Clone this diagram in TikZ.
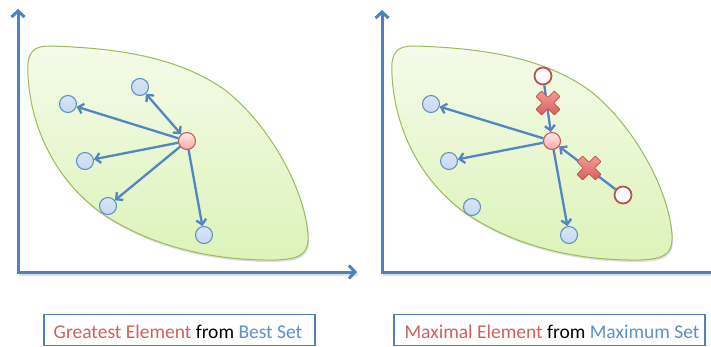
\documentclass[tikz,border=0pt]{standalone}
\usepackage{fontspec}
\setmainfont{Carlito}
\usetikzlibrary{arrows.meta,shadows}

\definecolor{axisblue}{HTML}{4F81BD}
\definecolor{linkblue}{HTML}{5285C2}
\definecolor{dotblue}{HTML}{C6D9F1}
\definecolor{dotblueedge}{HTML}{5A89C4}
\definecolor{bestred}{HTML}{C0504D}
\definecolor{crosstop}{HTML}{F29A96}
\definecolor{crossbottom}{HTML}{D9605B}
\definecolor{leafedge}{HTML}{9BBB59}
\definecolor{leaftop}{HTML}{F4FBEA}
\definecolor{leafbottom}{HTML}{DCF3B8}
\definecolor{wordred}{HTML}{D0605B}
\definecolor{wordblue}{HTML}{5B8FCF}

\tikzset{
  axisline/.style={draw=axisblue, line width=3pt, -{Straight Barb[length=6pt,width=13pt]}},
  axisflat/.style={draw=axisblue, line width=3pt},
  axisshade/.style={draw=black!35, opacity=0.35, line width=3pt},
  leaf/.style={draw=leafedge, line width=1pt, top color=leaftop, bottom color=leafbottom,
    drop shadow={shadow xshift=1pt, shadow yshift=-2pt, opacity=0.25}},
  bluedot/.style={circle, minimum size=17pt, inner sep=0pt, draw=dotblueedge, line width=1pt,
    top color=dotblue!70!white, bottom color=dotblue},
  reddot/.style={circle, minimum size=17pt, inner sep=0pt, draw=bestred, line width=1pt,
    top color=red!8!white, bottom color=red!35!white},
  opendot/.style={circle, minimum size=17pt, inner sep=0pt, draw=bestred, line width=1.8pt, fill=white},
  link/.style={draw=linkblue, line width=2.3pt, -{Straight Barb[length=5pt,width=10pt]}},
  twolink/.style={draw=linkblue, line width=2.3pt, {Straight Barb[length=5pt,width=10pt]}-{Straight Barb[length=5pt,width=10pt]}},
  crossshape/.style={draw=bestred, line width=0.8pt, top color=crosstop, bottom color=crossbottom, rounded corners=0.8pt},
  captionbox/.style={draw=axisblue, line width=1.5pt, inner sep=0pt},
  caption/.style={anchor=base, inner sep=0pt, font=\fontsize{19.5}{23}\selectfont},
  nocross/.pic={
    \path[crossshape, rotate=45]
      (4,13) -- (4,4) -- (13,4) -- (13,-4) -- (4,-4) -- (4,-13)
      -- (-4,-13) -- (-4,-4) -- (-13,-4) -- (-13,4) -- (-4,4) -- (-4,13) -- cycle;
  }
}

\begin{document}
\begin{tikzpicture}[x=1pt, y=-1pt]
\useasboundingbox (0,0) rectangle (711,346);

% ---------- left panel: greatest element ----------
\coordinate (o1) at (18,272);
\coordinate (y1) at (18,9);
\coordinate (x1) at (357,272);
\draw[axisshade] ([shift={(1,2)}]o1) -- ([shift={(1,2)}]x1);
\draw[axisline] ([yshift=-1.5pt]o1) -- (y1);
\draw[axisline] ([xshift=-1.5pt]o1) -- (x1);

\path[leaf] (28,75) .. controls (26,50) and (35,46) .. (50,46)
  .. controls (120,48) and (180,58) .. (225,90)
  .. controls (270,125) and (305,190) .. (308,235)
  .. controls (309,255) and (300,259) .. (275,260)
  .. controls (200,261) and (140,240) .. (100,212)
  .. controls (50,175) and (30,120) .. (28,75) -- cycle;

\node[bluedot] (a1) at (140,87) {};
\node[bluedot] (b1) at (68,104) {};
\node[bluedot] (c1) at (85,161) {};
\node[bluedot] (d1) at (108,206) {};
\node[bluedot] (e1) at (204,235) {};
\node[reddot]  (r1) at (187,141) {};

\draw[twolink] (r1) -- (a1);
\draw[link] (r1) -- (b1);
\draw[link] (r1) -- (c1);
\draw[link] (r1) -- (d1);
\draw[link] (r1) -- (e1);

% ---------- right panel: maximal element ----------
\coordinate (o2) at (382,272);
\coordinate (y2) at (382,10);
\coordinate (x2) at (711,272);
\draw[axisshade] ([shift={(1,2)}]o2) -- ([shift={(1,2)}]x2);
\draw[axisline] ([yshift=-1.5pt]o2) -- (y2);
\draw[axisflat] ([xshift=-1.5pt]o2) -- (x2);

\path[leaf] (392,75) .. controls (390,50) and (399,46) .. (414,46)
  .. controls (484,48) and (544,58) .. (589,90)
  .. controls (634,125) and (669,190) .. (672,235)
  .. controls (673,255) and (664,259) .. (639,260)
  .. controls (564,261) and (504,240) .. (464,212)
  .. controls (414,175) and (394,120) .. (392,75) -- cycle;

\node[bluedot] (b2) at (431,104) {};
\node[bluedot] (c2) at (449,161) {};
\node[bluedot] (d2) at (472,207) {};
\node[bluedot] (e2) at (569,235) {};
\node[reddot]  (r2) at (552,141) {};
\node[opendot] (w1) at (543,76) {};
\node[opendot] (w2) at (623,195) {};

\draw[link] (r2) -- (b2);
\draw[link] (r2) -- (c2);
\draw[link] (r2) -- (e2);
\draw[link] (w1) -- (r2);
\draw[link] (w2) -- (r2);

\pic at (548,103) {nocross};
\pic at (589,168) {nocross};

% ---------- captions ----------
\node[captionbox, minimum width=271pt, minimum height=31pt] (cap1) at (179.5,330) {};
\node[caption] (t1) at (178,338) {\textcolor{wordred}{Greatest Element} from \textcolor{wordblue}{Best Set}};

\node[captionbox, minimum width=311pt, minimum height=31pt] (cap2) at (549.5,330) {};
\node[caption] (t2) at (552,338) {\textcolor{wordred}{Maximal Element} from \textcolor{wordblue}{Maximum Set}};
\end{tikzpicture}
\end{document}
